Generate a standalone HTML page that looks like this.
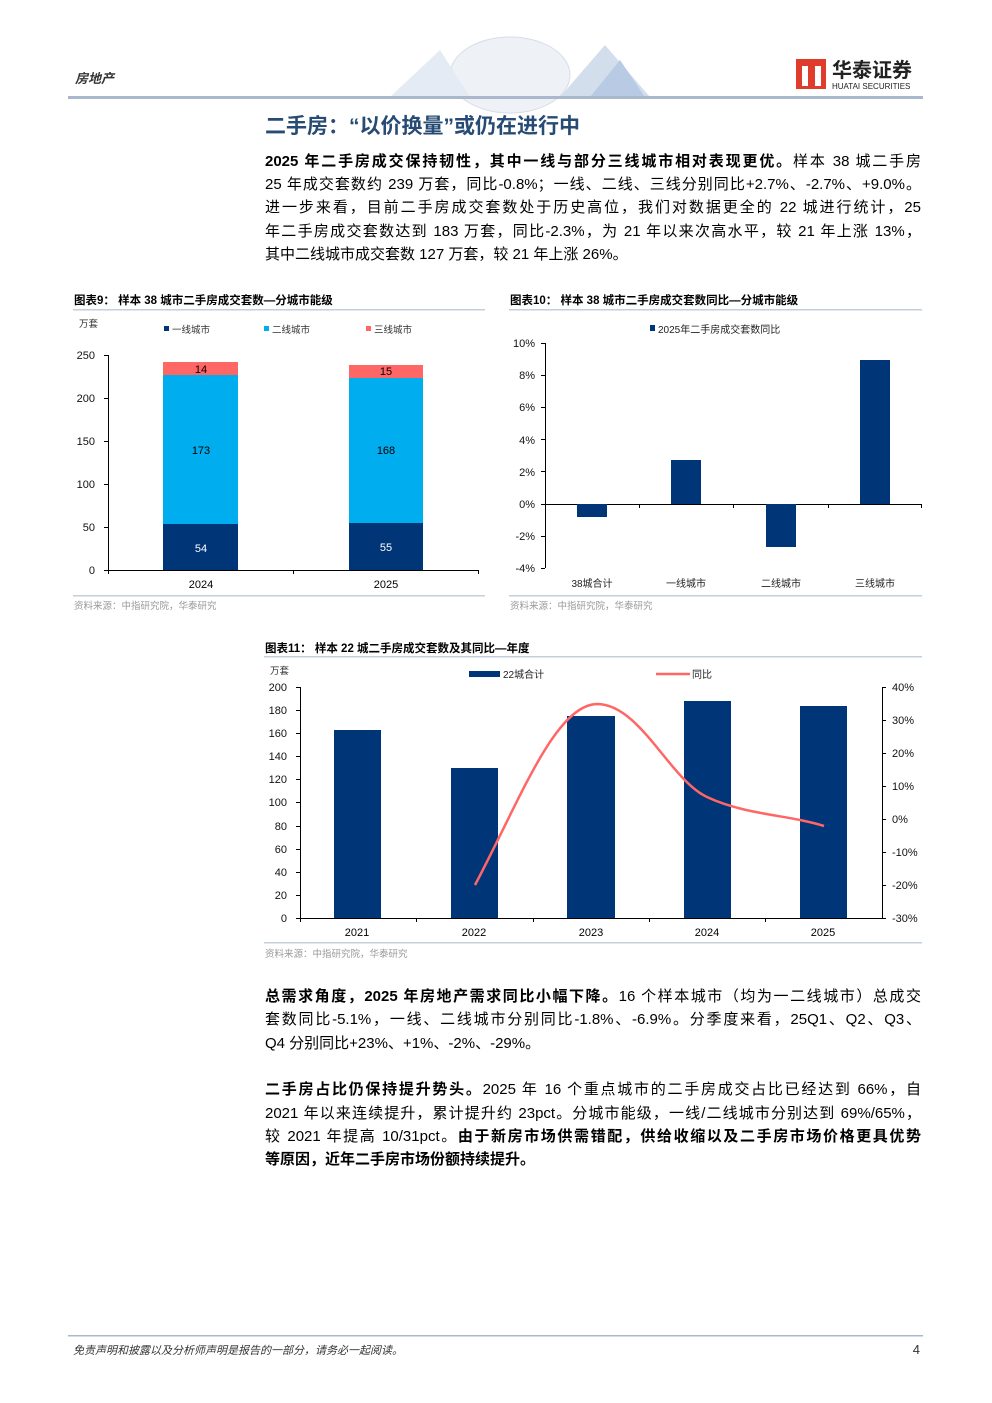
<!DOCTYPE html>
<html><head><meta charset="utf-8"><style>
body{margin:0;background:#fff;}
#p{position:relative;width:992px;height:1403px;overflow:hidden;font-family:"Liberation Sans","Noto Sans CJK SC",sans-serif;color:#000;}
.l{position:absolute;left:265px;font-size:15px;white-space:nowrap;line-height:18px;}
.j{width:656px;text-align:justify;text-align-last:justify;white-space:normal;}
b{font-weight:bold;}
svg text{font-family:"Liberation Sans","Noto Sans CJK SC",sans-serif;}
</style></head><body><div id="p">
<svg width="992" height="1403" style="position:absolute;left:0;top:0">
<!-- header decoration -->
<ellipse cx="510" cy="75" rx="60" ry="38" fill="#eef2f7" stroke="#d5dde8"/>
<polygon points="390,97 440,50 470,97" fill="#e4ebf4"/>
<polygon points="560,97 605,45 650,97" fill="#d3deed"/>
<polygon points="590,97 620,60 645,97" fill="#b9cbe4"/>
<rect x="68" y="96" width="855" height="3" fill="#a9b8cc"/>
<!-- logo -->
<rect x="796" y="59" width="30" height="30" fill="#e03c2c"/>
<rect x="802" y="66" width="6" height="20" fill="#fff"/><rect x="815" y="66" width="6" height="20" fill="#fff"/>
<text x="832" y="77" font-size="20" font-weight="bold" fill="#222">华泰证券</text>
<text x="832" y="89" font-size="8" fill="#222">HUATAI SECURITIES</text>
<text x="75" y="83" font-size="13" font-weight="bold" fill="#333" font-style="italic">房地产</text>
<text x="265" y="133" font-size="21" font-weight="bold" fill="#274b74">二手房：“以价换量”或仍在进行中</text>

<!-- chart 1 -->
<text x="74" y="304" font-size="11.5" font-weight="bold">图表9：  样本 38 城市二手房成交套数—分城市能级</text>
<rect x="73" y="309" width="412" height="1.5" fill="#c4cfdc"/>
<text x="79" y="327" font-size="9.5" fill="#333">万套</text>
<rect x="164" y="326" width="5" height="5" fill="#003578"/><text x="172" y="333" font-size="9.5" fill="#333">一线城市</text>
<rect x="264" y="326" width="5" height="5" fill="#00adee"/><text x="272" y="333" font-size="9.5" fill="#333">二线城市</text>
<rect x="366" y="326" width="5" height="5" fill="#ff6666"/><text x="374" y="333" font-size="9.5" fill="#333">三线城市</text>
<g font-size="11" text-anchor="end" fill="#111">
<text x="95" y="359">250</text><text x="95" y="402">200</text><text x="95" y="445">150</text><text x="95" y="488">100</text><text x="95" y="531">50</text><text x="95" y="574">0</text></g>
<g stroke="#000" stroke-width="1">
<line x1="108.5" y1="355" x2="108.5" y2="570"/>
<line x1="104" y1="355.5" x2="108" y2="355.5"/><line x1="104" y1="398.5" x2="108" y2="398.5"/><line x1="104" y1="441.5" x2="108" y2="441.5"/><line x1="104" y1="484.5" x2="108" y2="484.5"/><line x1="104" y1="527.5" x2="108" y2="527.5"/>
<line x1="104" y1="570.5" x2="478" y2="570.5"/>
<line x1="293.5" y1="570" x2="293.5" y2="574"/><line x1="478.5" y1="570" x2="478.5" y2="574"/><line x1="108.5" y1="570" x2="108.5" y2="574"/>
</g>
<rect x="163" y="524" width="75" height="46" fill="#003578"/>
<rect x="163" y="375" width="75" height="149" fill="#00adee"/>
<rect x="163" y="362" width="75" height="13" fill="#ff6666"/>
<rect x="349" y="523" width="74" height="47" fill="#003578"/>
<rect x="349" y="378" width="74" height="145" fill="#00adee"/>
<rect x="349" y="365" width="74" height="13" fill="#ff6666"/>
<g font-size="11" text-anchor="middle">
<text x="201" y="373">14</text><text x="201" y="454">173</text><text x="201" y="552" fill="#fff">54</text>
<text x="386" y="375">15</text><text x="386" y="454">168</text><text x="386" y="551" fill="#fff">55</text>
<text x="201" y="588">2024</text><text x="386" y="588">2025</text></g>
<rect x="73" y="595" width="412" height="1.5" fill="#c4cfdc"/>
<text x="74" y="609" font-size="9.5" fill="#999">资料来源：中指研究院，华泰研究</text>

<!-- chart 2 -->
<text x="510" y="304" font-size="11.5" font-weight="bold">图表10：  样本 38 城市二手房成交套数同比—分城市能级</text>
<rect x="509" y="309" width="413" height="1.5" fill="#c4cfdc"/>
<rect x="650" y="325" width="5" height="6" fill="#003578"/><text x="658" y="333" font-size="10" fill="#222">2025年二手房成交套数同比</text>
<g font-size="11" text-anchor="end" fill="#111">
<text x="535" y="347">10%</text><text x="535" y="379">8%</text><text x="535" y="411">6%</text><text x="535" y="444">4%</text><text x="535" y="476">2%</text><text x="535" y="508">0%</text><text x="535" y="540">-2%</text><text x="535" y="572">-4%</text></g>
<g stroke="#000" stroke-width="1">
<line x1="545.5" y1="343" x2="545.5" y2="568"/>
<line x1="541" y1="343.5" x2="545" y2="343.5"/><line x1="541" y1="375.5" x2="545" y2="375.5"/><line x1="541" y1="407.5" x2="545" y2="407.5"/><line x1="541" y1="439.5" x2="545" y2="439.5"/><line x1="541" y1="471.5" x2="545" y2="471.5"/><line x1="541" y1="536.5" x2="545" y2="536.5"/><line x1="541" y1="568.5" x2="545" y2="568.5"/>
<line x1="541" y1="504.5" x2="922" y2="504.5"/>
<line x1="639.5" y1="504" x2="639.5" y2="508"/><line x1="733.5" y1="504" x2="733.5" y2="508"/><line x1="828.5" y1="504" x2="828.5" y2="508"/><line x1="921.5" y1="504" x2="921.5" y2="508"/>
</g>
<rect x="577" y="504" width="30" height="13" fill="#003578"/>
<rect x="671" y="460" width="30" height="44" fill="#003578"/>
<rect x="766" y="504" width="30" height="43" fill="#003578"/>
<rect x="860" y="360" width="30" height="144" fill="#003578"/>
<g font-size="10" text-anchor="middle" fill="#222">
<text x="592" y="587">38城合计</text><text x="686" y="587">一线城市</text><text x="781" y="587">二线城市</text><text x="875" y="587">三线城市</text></g>
<rect x="509" y="595" width="413" height="1.5" fill="#c4cfdc"/>
<text x="510" y="609" font-size="9.5" fill="#999">资料来源：中指研究院，华泰研究</text>

<!-- chart 3 -->
<text x="265" y="652" font-size="11.5" font-weight="bold">图表11：  样本 22 城二手房成交套数及其同比—年度</text>
<rect x="264" y="656" width="658" height="1.5" fill="#c4cfdc"/>
<text x="270" y="674" font-size="9.5" fill="#333">万套</text>
<rect x="469" y="671" width="31" height="6" fill="#003578"/><text x="503" y="678" font-size="10" fill="#222">22城合计</text>
<line x1="656" y1="674" x2="690" y2="674" stroke="#ff6666" stroke-width="2.5"/><text x="692" y="678" font-size="10" fill="#222">同比</text>
<g font-size="11" text-anchor="end" fill="#111">
<text x="287" y="691">200</text><text x="287" y="714">180</text><text x="287" y="737">160</text><text x="287" y="760">140</text><text x="287" y="783">120</text><text x="287" y="806">100</text><text x="287" y="830">80</text><text x="287" y="853">60</text><text x="287" y="876">40</text><text x="287" y="899">20</text><text x="287" y="922">0</text></g>
<g font-size="11" fill="#111">
<text x="892" y="691">40%</text><text x="892" y="724">30%</text><text x="892" y="757">20%</text><text x="892" y="790">10%</text><text x="892" y="823">0%</text><text x="892" y="856">-10%</text><text x="892" y="889">-20%</text><text x="892" y="922">-30%</text></g>
<g stroke="#000" stroke-width="1">
<line x1="300.5" y1="687" x2="300.5" y2="918"/>
<line x1="296" y1="687.5" x2="300" y2="687.5"/><line x1="296" y1="710.5" x2="300" y2="710.5"/><line x1="296" y1="733.5" x2="300" y2="733.5"/><line x1="296" y1="756.5" x2="300" y2="756.5"/><line x1="296" y1="779.5" x2="300" y2="779.5"/><line x1="296" y1="802.5" x2="300" y2="802.5"/><line x1="296" y1="826.5" x2="300" y2="826.5"/><line x1="296" y1="849.5" x2="300" y2="849.5"/><line x1="296" y1="872.5" x2="300" y2="872.5"/><line x1="296" y1="895.5" x2="300" y2="895.5"/>
<line x1="296" y1="918.5" x2="886" y2="918.5"/>
<line x1="882.5" y1="687" x2="882.5" y2="918"/>
<line x1="882" y1="687.5" x2="886" y2="687.5"/><line x1="882" y1="720.5" x2="886" y2="720.5"/><line x1="882" y1="753.5" x2="886" y2="753.5"/><line x1="882" y1="786.5" x2="886" y2="786.5"/><line x1="882" y1="819.5" x2="886" y2="819.5"/><line x1="882" y1="852.5" x2="886" y2="852.5"/><line x1="882" y1="885.5" x2="886" y2="885.5"/>
<line x1="416.5" y1="918" x2="416.5" y2="922"/><line x1="533.5" y1="918" x2="533.5" y2="922"/><line x1="649.5" y1="918" x2="649.5" y2="922"/><line x1="765.5" y1="918" x2="765.5" y2="922"/><line x1="300.5" y1="918" x2="300.5" y2="922"/>
</g>
<g fill="#003578">
<rect x="334" y="730" width="47" height="188"/>
<rect x="451" y="768" width="47" height="150"/>
<rect x="567" y="716" width="48" height="202"/>
<rect x="684" y="701" width="47" height="217"/>
<rect x="800" y="706" width="47" height="212"/>
</g>
<path d="M475,885 C520,800 555,705 597,704 C640,704 670,780 707,797 C745,815 790,815 824,826" fill="none" stroke="#ff6666" stroke-width="2.5"/>
<g font-size="11" text-anchor="middle">
<text x="357" y="936">2021</text><text x="474" y="936">2022</text><text x="591" y="936">2023</text><text x="707" y="936">2024</text><text x="823" y="936">2025</text></g>
<rect x="264" y="942" width="658" height="1.5" fill="#c4cfdc"/>
<text x="265" y="957" font-size="9.5" fill="#999">资料来源：中指研究院，华泰研究</text>

<rect x="68" y="1335" width="855" height="1.5" fill="#a9b8cc"/>
<text x="73" y="1354" font-size="11" fill="#333" font-style="italic">免责声明和披露以及分析师声明是报告的一部分，请务必一起阅读。</text>
<text x="920" y="1354" font-size="13" fill="#333" text-anchor="end">4</text>
</svg>

<div class="l j" style="top:153px"><b>2025 年二手房成交保持韧性，其中一线与部分三线城市相对表现更优。</b>样本 38 城二手房</div>
<div class="l j" style="top:176px">25 年成交套数约 239 万套，同比-0.8%；一线、二线、三线分别同比+2.7%、-2.7%、+9.0%。</div>
<div class="l j" style="top:199px">进一步来看，目前二手房成交套数处于历史高位，我们对数据更全的 22 城进行统计，25</div>
<div class="l j" style="top:223px">年二手房成交套数达到 183 万套，同比-2.3%，为 21 年以来次高水平，较 21 年上涨 13%，</div>
<div class="l" style="top:246px">其中二线城市成交套数 127 万套，较 21 年上涨 26%。</div>

<div class="l j" style="top:988px"><b>总需求角度，2025 年房地产需求同比小幅下降。</b>16 个样本城市（均为一二线城市）总成交</div>
<div class="l j" style="top:1011px">套数同比-5.1%，一线、二线城市分别同比-1.8%、-6.9%。分季度来看，25Q1、Q2、Q3、</div>
<div class="l" style="top:1035px">Q4 分别同比+23%、+1%、-2%、-29%。</div>

<div class="l j" style="top:1081px"><b>二手房占比仍保持提升势头。</b>2025 年 16 个重点城市的二手房成交占比已经达到 66%，自</div>
<div class="l j" style="top:1105px">2021 年以来连续提升，累计提升约 23pct。分城市能级，一线/二线城市分别达到 69%/65%，</div>
<div class="l j" style="top:1128px">较 2021 年提高 10/31pct。<b>由于新房市场供需错配，供给收缩以及二手房市场价格更具优势</b></div>
<div class="l" style="top:1151px"><b>等原因，近年二手房市场份额持续提升。</b></div>
</div></body></html>
